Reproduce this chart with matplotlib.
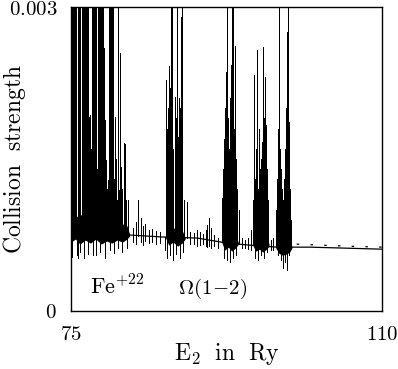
import numpy as np
import matplotlib
matplotlib.use("Agg")
import matplotlib.pyplot as plt

# smooth background of the collision strength (E in Ry, Omega)
bg_e = [75.0, 78.3, 81.6, 85.35, 89.2, 92.55, 95.1, 98.2, 99.6, 101.9, 106.0, 110.0]
bg_om = [0.00080, 0.00078, 0.00075, 0.00073, 0.00072, 0.00067, 0.00065, 0.00063,
         0.00063, 0.00063, 0.00062, 0.00061]

# second (dotted) curve above threshold
dot_e = [100.4, 103.0, 106.0, 110.0]
dot_om = [0.00066, 0.00065, 0.00064, 0.00063]

# resonance spikes: energy and peak value (0.0031 = off scale)
spike_e = [75.00, 75.11, 75.23, 75.34, 75.45, 75.56, 75.79, 75.90, 76.01, 76.24,
           76.35, 76.46, 76.58, 76.69, 76.80, 76.91, 77.36, 77.48, 77.59, 77.70,
           77.81, 78.04, 78.15, 78.26, 78.38, 78.49, 78.60, 79.28, 79.39, 79.50,
           79.61, 79.73, 80.29,
           77.03, 77.14, 77.25, 77.93, 78.71, 78.83, 78.94, 79.05, 79.16, 79.84,
           79.95, 80.06, 80.17, 80.40, 80.51, 80.63, 80.74, 80.96, 81.08, 81.19,
           81.41, 82.54,
           85.69, 85.80, 85.92, 86.03, 86.14, 86.25, 86.37, 86.48, 86.70, 86.81,
           86.93, 87.04, 87.15, 87.26, 87.38, 87.49, 87.71, 88.05,
           91.99, 92.10, 92.21, 92.33, 92.44, 92.56, 92.67, 92.78, 92.89, 93.01,
           93.12, 93.23, 93.35, 93.46, 93.57, 93.68, 93.91,
           95.48, 95.59, 95.71, 95.82, 95.93, 96.04, 96.15, 96.27, 96.38, 96.49,
           96.61, 96.72, 96.83, 96.94, 97.05, 97.17,
           98.07, 98.18, 98.30, 98.41, 98.52, 98.63, 98.75, 98.86, 98.97, 99.08,
           99.19, 99.31, 99.42, 99.53, 99.65, 99.76]
spike_top = [0.0031] * 33 + [
           0.00191, 0.00193, 0.00160, 0.00140, 0.00260, 0.00188, 0.00149, 0.00120,
           0.00129, 0.00130, 0.00191, 0.00150, 0.00110, 0.00119, 0.00255, 0.00142,
           0.00120, 0.00166, 0.00165, 0.00110, 0.00110, 0.00110,
           0.00228, 0.00180, 0.00200, 0.00242, 0.00220, 0.0031, 0.0031, 0.00160,
           0.00211, 0.00190, 0.0031, 0.00172, 0.00210, 0.00200, 0.00290, 0.0031,
           0.00110, 0.00108,
           0.00112, 0.00140, 0.00170, 0.00200, 0.00236, 0.0031, 0.00190, 0.00160,
           0.00210, 0.00243, 0.0031, 0.0031, 0.00180, 0.00262, 0.00150, 0.00120,
           0.00100,
           0.00110, 0.00233, 0.00130, 0.00160, 0.00258, 0.00120, 0.00180, 0.00140,
           0.00150, 0.00167, 0.00261, 0.00190, 0.00231, 0.00184, 0.00140, 0.00110,
           0.00100, 0.00130, 0.00180, 0.0031, 0.00160, 0.00140, 0.00120, 0.00110,
           0.00130, 0.00160, 0.00200, 0.00275, 0.0031, 0.00187, 0.00120, 0.00090]

# dips below the background
dip_e = [75.00, 75.11, 75.68, 75.79, 76.01, 76.46, 76.91, 77.48, 77.81, 78.26,
         78.83, 79.39, 79.84, 80.29, 80.74, 81.30,
         85.57, 85.80, 86.14, 86.48, 86.81, 87.26, 87.60,
         92.21, 92.56, 92.89, 93.23, 93.57,
         95.71, 96.04, 96.38, 96.72, 97.05,
         98.30, 98.63, 98.86, 99.08, 99.31, 99.53]
dip_low = [0.00043, 0.00053, 0.00055, 0.00052, 0.00058, 0.00052, 0.00056, 0.00055,
           0.00055, 0.00058, 0.00052, 0.00060, 0.00057, 0.00062, 0.00058, 0.00062,
           0.00060, 0.00052, 0.00055, 0.00050, 0.00056, 0.00052, 0.00058,
           0.00052, 0.00050, 0.00048, 0.00052, 0.00055,
           0.00052, 0.00050, 0.00055, 0.00052, 0.00058,
           0.00055, 0.00050, 0.00042, 0.00048, 0.00040, 0.00055]

# small structure between the resonance groups
noise_e = [81.98, 82.31, 82.88, 83.10, 83.33, 83.78, 84.10, 84.57, 85.02,
           88.39, 88.84, 89.18, 89.52, 89.86, 90.19, 90.30, 90.53, 90.76, 91.09,
           91.54, 94.24, 94.58, 94.92, 95.26, 97.50, 97.75]
noise_hi = [0.00082, 0.00088, 0.00092, 0.00084, 0.00086, 0.00080, 0.00081, 0.00079,
            0.00078, 0.00078, 0.00077, 0.00080, 0.00078, 0.00076, 0.00080, 0.00085,
            0.00092, 0.00082, 0.00075, 0.00072, 0.00072, 0.00070, 0.00072, 0.00080,
            0.00070, 0.00072]
noise_lo = [0.00068, 0.00066, 0.00068, 0.00065, 0.00069, 0.00067, 0.00068, 0.00066,
            0.00067, 0.00066, 0.00066, 0.00064, 0.00065, 0.00066, 0.00064, 0.00063,
            0.00064, 0.00062, 0.00064, 0.00062, 0.00062, 0.00062, 0.00061, 0.00060,
            0.00060, 0.00060]

# dense unresolved resonance mass in each group
mass1_e = [75.0, 75.5, 76.0, 76.6, 77.2, 77.8, 78.4, 79.0, 79.6, 80.2, 80.8, 81.3, 81.6]
mass1_hi = [0.00098, 0.00092, 0.00096, 0.00091, 0.00095, 0.00090, 0.00094, 0.00092,
            0.00088, 0.00091, 0.00086, 0.00084, 0.00076]
mass1_lo = [0.00068, 0.00071, 0.00066, 0.00070, 0.00067, 0.00071, 0.00066, 0.00069,
            0.00067, 0.00070, 0.00068, 0.00071, 0.00074]
mass2_e = [85.65, 86.0, 86.5, 87.0, 87.5, 87.85]
mass2_hi = [0.00074, 0.00084, 0.00081, 0.00085, 0.00080, 0.00072]
mass2_lo = [0.00072, 0.00065, 0.00068, 0.00064, 0.00067, 0.00071]
mass3_e = [92.0, 92.3, 92.7, 93.1, 93.5, 93.85]
mass3_hi = [0.00069, 0.00081, 0.00078, 0.00083, 0.00077, 0.00067]
mass3_lo = [0.00067, 0.00060, 0.00063, 0.00059, 0.00062, 0.00066]
mass4_e = [95.5, 95.8, 96.2, 96.6, 97.0, 97.3]
mass4_hi = [0.00066, 0.00080, 0.00090, 0.00083, 0.00078, 0.00065]
mass4_lo = [0.00064, 0.00059, 0.00061, 0.00058, 0.00061, 0.00064]
mass5_e = [98.05, 98.4, 98.8, 99.2, 99.6, 99.85]
mass5_hi = [0.00065, 0.00083, 0.00088, 0.00084, 0.00078, 0.00064]
mass5_lo = [0.00062, 0.00057, 0.00055, 0.00056, 0.00058, 0.00062]

masses = [(mass1_e, mass1_hi, mass1_lo), (mass2_e, mass2_hi, mass2_lo),
          (mass3_e, mass3_hi, mass3_lo), (mass4_e, mass4_hi, mass4_lo),
          (mass5_e, mass5_hi, mass5_lo)]


def main():
    plt.rcParams["mathtext.fontset"] = "cm"
    plt.rcParams["font.family"] = "serif"

    fig = plt.figure(figsize=(3.98, 3.69), dpi=100)
    ax = fig.add_axes([0.1784, 0.1572, 0.7814, 0.8238])

    base = np.interp(spike_e, bg_e, bg_om)
    ax.vlines(spike_e, base, spike_top, color="black", linewidth=0.7, antialiased=False)
    dip_top = np.interp(dip_e, bg_e, bg_om)
    ax.vlines(dip_e, dip_low, dip_top, color="black", linewidth=0.6, antialiased=False)
    ax.vlines(noise_e, noise_lo, noise_hi, color="black", linewidth=0.6, antialiased=False)

    for e, hi, lo in masses:
        ax.fill_between(e, lo, hi, color="black", linewidth=0)

    ax.plot(bg_e, bg_om, color="black", linewidth=0.9)
    ax.plot(dot_e, dot_om, color="black", linewidth=0.9, linestyle=(0, (2, 9)))

    ax.set_xlim(75, 110)
    ax.set_ylim(0, 0.003)
    ax.set_xticks([75, 110])
    ax.set_xticklabels([r"$75$", r"$110$"], fontsize=15)
    ax.set_yticks([0, 0.003])
    ax.set_yticklabels([r"$0$", r"$0.003$"], fontsize=15)
    ax.tick_params(axis="y", length=0, pad=10)
    ax.tick_params(axis="x", length=0, pad=10)
    for s in ax.spines.values():
        s.set_linewidth(1.0)

    ax.set_xlabel(r"$\mathrm{E_2\ \ in\ \ Ry}$", fontsize=17)
    ax.xaxis.set_label_coords(0.5, -0.1)
    ax.set_ylabel(r"$\mathrm{Collision\ \ strength}$", fontsize=17)
    ax.yaxis.set_label_coords(-0.138, 0.5)

    ax.text(0.06, 0.055, r"$\mathrm{Fe}^{+22}$", transform=ax.transAxes, fontsize=16)
    ax.text(0.345, 0.055, r"$\Omega(1\!-\!2)$", transform=ax.transAxes, fontsize=15)

    fig.savefig("out.png", dpi=100)
    plt.close(fig)


if __name__ == "__main__":
    main()
